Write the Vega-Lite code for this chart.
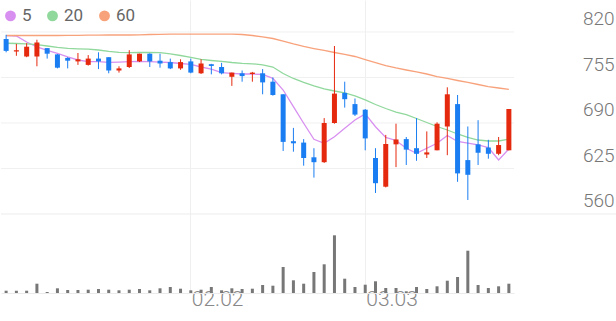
{
  "$schema": "https://vega.github.io/schema/vega-lite/v6.json",
  "width": 616,
  "height": 293,
  "padding": 0,
  "autosize": {"type": "pad"},
  "background": "white",
  "config": {"view": {"stroke": null}, "font": "Roboto"},
  "data": {"values": [
    {"d":"01.07","o":810,"h":816,"l":791,"c":793,"v":23,"ma5":814.7,"ma20":803.9,"ma60":815.0},
    {"d":"01.08","o":792,"h":803,"l":786,"c":794,"v":23,"ma5":814.3,"ma20":803.6,"ma60":815.0},
    {"d":"01.09","o":785,"h":804,"l":784,"c":799,"v":23,"ma5":805.7,"ma20":802.9,"ma60":815.0},
    {"d":"01.12","o":785,"h":809,"l":771,"c":805,"v":93,"ma5":798.6,"ma20":802.1,"ma60":815.0},
    {"d":"01.13","o":797,"h":797,"l":782,"c":789,"v":10,"ma5":793.9,"ma20":800.0,"ma60":815.0},
    {"d":"01.14","o":788,"h":788.5,"l":768,"c":769,"v":47,"ma5":789.3,"ma20":797.9,"ma60":815.0},
    {"d":"01.15","o":783,"h":784,"l":768,"c":779,"v":30,"ma5":784.3,"ma20":796.7,"ma60":815.3},
    {"d":"01.16","o":778,"h":790,"l":773,"c":781,"v":30,"ma5":780.0,"ma20":796.0,"ma60":815.3},
    {"d":"01.19","o":773,"h":787,"l":772,"c":782,"v":33,"ma5":777.6,"ma20":795.4,"ma60":815.4},
    {"d":"01.20","o":782,"h":791,"l":767,"c":778,"v":40,"ma5":777.6,"ma20":794.3,"ma60":815.4},
    {"d":"01.21","o":784,"h":784,"l":761,"c":765,"v":33,"ma5":776.7,"ma20":792.4,"ma60":815.7},
    {"d":"01.22","o":765,"h":771,"l":762,"c":768,"v":27,"ma5":777.1,"ma20":791.0,"ma60":815.7},
    {"d":"01.23","o":770,"h":794,"l":768.5,"c":788,"v":33,"ma5":777.6,"ma20":790.4,"ma60":815.7},
    {"d":"01.26","o":778,"h":789,"l":777,"c":789,"v":40,"ma5":778.1,"ma20":790.7,"ma60":816.0},
    {"d":"01.27","o":789,"h":789.5,"l":770,"c":778,"v":27,"ma5":777.6,"ma20":790.9,"ma60":816.4},
    {"d":"01.28","o":779,"h":789,"l":769,"c":775,"v":47,"ma5":777.1,"ma20":790.4,"ma60":816.7},
    {"d":"01.29","o":777,"h":782,"l":767,"c":768,"v":60,"ma5":776.4,"ma20":788.6,"ma60":816.9},
    {"d":"01.30","o":768,"h":781,"l":766,"c":777,"v":43,"ma5":775.0,"ma20":786.4,"ma60":817.1},
    {"d":"02.02","o":778,"h":782,"l":761,"c":762,"v":27,"ma5":773.6,"ma20":783.9,"ma60":817.1},
    {"d":"02.03","o":761,"h":781,"l":760,"c":775,"v":33,"ma5":770.0,"ma20":781.0,"ma60":817.1},
    {"d":"02.04","o":774,"h":774.5,"l":759.5,"c":771.5,"v":60,"ma5":767.1,"ma20":779.3,"ma60":817.1},
    {"d":"02.05","o":770,"h":776,"l":759.5,"c":761,"v":27,"ma5":762.1,"ma20":777.9,"ma60":817.1},
    {"d":"02.06","o":756,"h":762,"l":743,"c":762,"v":47,"ma5":761.0,"ma20":776.4,"ma60":817.1},
    {"d":"02.09","o":761,"h":765,"l":749,"c":757,"v":40,"ma5":760.0,"ma20":775.3,"ma60":816.4},
    {"d":"02.10","o":760,"h":763,"l":749,"c":762,"v":43,"ma5":760.0,"ma20":774.6,"ma60":815.0},
    {"d":"02.11","o":761,"h":767,"l":731,"c":748,"v":80,"ma5":759.3,"ma20":772.9,"ma60":812.9},
    {"d":"02.12","o":749,"h":755,"l":729,"c":730,"v":73,"ma5":753.9,"ma20":770.0,"ma60":810.7},
    {"d":"02.13","o":731,"h":731,"l":650,"c":663,"v":260,"ma5":737.1,"ma20":760.7,"ma60":807.1},
    {"d":"02.19","o":664,"h":683,"l":649,"c":661,"v":127,"ma5":713.3,"ma20":753.6,"ma60":802.9},
    {"d":"02.20","o":662,"h":667,"l":629,"c":640,"v":93,"ma5":689.6,"ma20":747.9,"ma60":799.3},
    {"d":"02.23","o":641,"h":654,"l":612,"c":634,"v":210,"ma5":666.7,"ma20":742.9,"ma60":796.4},
    {"d":"02.24","o":634,"h":697,"l":633,"c":690,"v":287,"ma5":661.0,"ma20":738.6,"ma60":793.6},
    {"d":"02.25","o":690,"h":800,"l":689,"c":732,"v":577,"ma5":670.4,"ma20":735.7,"ma60":790.7},
    {"d":"02.26","o":733,"h":749,"l":712,"c":724,"v":143,"ma5":682.4,"ma20":732.9,"ma60":787.9},
    {"d":"02.27","o":717,"h":725,"l":700,"c":702,"v":60,"ma5":694.3,"ma20":728.6,"ma60":785.0},
    {"d":"03.03","o":709,"h":710,"l":651,"c":668,"v":83,"ma5":702.9,"ma20":722.9,"ma60":780.7},
    {"d":"03.04","o":640,"h":654,"l":590,"c":604,"v":117,"ma5":684.7,"ma20":716.4,"ma60":776.4},
    {"d":"03.05","o":599,"h":673,"l":598,"c":660,"v":50,"ma5":669.3,"ma20":710.7,"ma60":772.1},
    {"d":"03.06","o":659.5,"h":689,"l":627,"c":666.5,"v":50,"ma5":665.0,"ma20":705.7,"ma60":768.6},
    {"d":"03.09","o":667,"h":670,"l":630,"c":652,"v":17,"ma5":653.9,"ma20":702.1,"ma60":765.7},
    {"d":"03.10","o":654,"h":697,"l":636,"c":646,"v":60,"ma5":646.6,"ma20":696.4,"ma60":762.9},
    {"d":"03.11","o":645,"h":678,"l":640,"c":648,"v":40,"ma5":653.9,"ma20":690.7,"ma60":760.0},
    {"d":"03.12","o":651,"h":691,"l":651,"c":689,"v":67,"ma5":661.0,"ma20":685.0,"ma60":756.4},
    {"d":"03.13","o":685,"h":741,"l":644,"c":731,"v":123,"ma5":672.1,"ma20":680.0,"ma60":753.6},
    {"d":"03.16","o":717,"h":730,"l":606,"c":618,"v":160,"ma5":663.6,"ma20":674.3,"ma60":750.7},
    {"d":"03.17","o":637,"h":685,"l":580,"c":616,"v":423,"ma5":661.4,"ma20":669.3,"ma60":747.9},
    {"d":"03.18","o":659.5,"h":694,"l":630,"c":647.5,"v":80,"ma5":658.6,"ma20":665.7,"ma60":745.0},
    {"d":"03.19","o":655,"h":666,"l":639,"c":646,"v":50,"ma5":655.0,"ma20":664.3,"ma60":742.1},
    {"d":"03.20","o":646,"h":670,"l":644,"c":658.5,"v":67,"ma5":637.1,"ma20":664.3,"ma60":740.0},
    {"d":"03.23","o":651,"h":710,"l":651,"c":710,"v":93,"ma5":652.9,"ma20":667.1,"ma60":737.9}
  ]},
  "layer": [
    {
      "layer": [
        {
          "data": {"values": [{"g": 820}, {"g": 755}, {"g": 690}, {"g": 625}]},
          "mark": {"type": "rule", "color": "#f0f0f0", "strokeWidth": 1},
          "encoding": {
            "x": {"datum": "01.07", "type": "ordinal", "bandPosition": 0, "title": null},
            "x2": {"datum": "03.23", "bandPosition": 1},
            "y": {"field": "g", "type": "quantitative", "title": null,
              "scale": {"domain": [447.14, 865.71], "nice": false, "zero": false},
              "axis": {"orient": "right", "values": [560, 625, 690, 755, 820], "grid": false, "ticks": false, "tickSize": 0, "domain": false,
                "labelAlign": "right", "labelPadding": -3, "labelBaseline": "alphabetic", "labelOffset": -7,
                "labelFontSize": 19, "labelFont": "Roboto", "labelFontWeight": 300, "labelColor": "#777", "labelFlush": false, "labelOverlap": false}}
          }
        },
        {
          "data": {"values": [{"g": 560}]},
          "mark": {"type": "rule", "color": "#ececec", "strokeWidth": 1},
          "encoding": {
            "y": {"field": "g", "type": "quantitative", "title": null, "scale": {"domain": [447.14, 865.71], "nice": false, "zero": false}}
          }
        },
        {
          "transform": [{"fold": ["ma5", "ma20", "ma60"], "as": ["k", "p"]}],
          "mark": {"type": "line", "strokeWidth": 1.3},
          "encoding": {
            "x": {"field": "d", "type": "ordinal", "title": null,
              "scale": {"type": "band", "paddingInner": 0, "paddingOuter": 0, "range": [0, 513], "round": false},
              "axis": {"values": ["02.02", "03.03"], "bandPosition": 0.5, "grid": true, "gridColor": "#efefef", "gridWidth": 1, "ticks": false, "domain": true, "domainColor": "#ebebeb", "labelAngle": 0, "labelAlign": "left", "labelOffset": 1, "labelPadding": 6, "labelFontSize": 21, "labelFont": "Roboto", "labelFontWeight": 300, "labelColor": "#888"}},
            "y": {"field": "p", "type": "quantitative", "title": null, "scale": {"domain": [447.14, 865.71], "nice": false, "zero": false}},
            "color": {"field": "k", "type": "nominal",
              "scale": {"domain": ["ma5", "ma20", "ma60"], "range": ["#d890f0", "#90d89c", "#f8a27c"]},
              "legend": {"title": null, "orient": "none", "legendX": 1, "legendY": 7, "direction": "horizontal", "symbolType": "circle", "symbolSize": 28, "symbolStrokeWidth": 5.6,
                "labelFontSize": 17, "labelFont": "Roboto", "labelColor": "#666", "labelOffset": 3, "columnPadding": 6, "padding": 0, "labelExpr": "replace(datum.label, 'ma', '')"}}
          }
        },
        {
          "mark": {"type": "rule", "strokeWidth": 1},
          "encoding": {
            "x": {"field": "d", "type": "ordinal", "title": null,
              "scale": {"type": "band", "paddingInner": 0, "paddingOuter": 0, "range": [0, 513], "round": false},
              "axis": {"values": ["02.02", "03.03"], "bandPosition": 0.5, "grid": true, "gridColor": "#efefef", "gridWidth": 1, "ticks": false, "domain": true, "domainColor": "#ebebeb", "labelAngle": 0, "labelAlign": "left", "labelOffset": 1, "labelPadding": 6, "labelFontSize": 21, "labelFont": "Roboto", "labelFontWeight": 300, "labelColor": "#888"}},
            "y": {"field": "l", "type": "quantitative", "title": null, "scale": {"domain": [447.14, 865.71], "nice": false, "zero": false}},
            "y2": {"field": "h"},
            "color": {"condition": {"test": "datum.c >= datum.o", "value": "#e5290e"}, "value": "#1a7ef2"}
          }
        },
        {
          "mark": {"type": "bar", "width": 5},
          "encoding": {
            "x": {"field": "d", "type": "ordinal", "title": null,
              "scale": {"type": "band", "paddingInner": 0, "paddingOuter": 0, "range": [0, 513], "round": false},
              "axis": {"values": ["02.02", "03.03"], "bandPosition": 0.5, "grid": true, "gridColor": "#efefef", "gridWidth": 1, "ticks": false, "domain": true, "domainColor": "#ebebeb", "labelAngle": 0, "labelAlign": "left", "labelOffset": 1, "labelPadding": 6, "labelFontSize": 21, "labelFont": "Roboto", "labelFontWeight": 300, "labelColor": "#888"}},
            "y": {"field": "o", "type": "quantitative", "title": null, "scale": {"domain": [447.14, 865.71], "nice": false, "zero": false}},
            "y2": {"field": "c"},
            "color": {"condition": {"test": "datum.c >= datum.o", "value": "#e5290e"}, "value": "#1a7ef2"}
          }
        }
      ]
    },
    {
      "mark": {"type": "bar", "width": 3, "color": "#777777"},
      "encoding": {
        "x": {"field": "d", "type": "ordinal", "title": null,
          "scale": {"type": "band", "paddingInner": 0, "paddingOuter": 0, "range": [0, 513], "round": false},
          "axis": {"values": ["02.02", "03.03"], "bandPosition": 0.5, "grid": true, "gridColor": "#efefef", "gridWidth": 1, "ticks": false, "domain": true, "domainColor": "#ebebeb", "labelAngle": 0, "labelAlign": "left", "labelOffset": 1, "labelPadding": 6, "labelFontSize": 21, "labelFont": "Roboto", "labelFontWeight": 300, "labelColor": "#888"}},
        "y": {"field": "v", "type": "quantitative", "title": null, "scale": {"domain": [0, 2930], "nice": false, "zero": true}, "axis": null}
      }
    }
  ],
  "resolve": {"scale": {"y": "independent"}, "axis": {"y": "independent"}}
}
